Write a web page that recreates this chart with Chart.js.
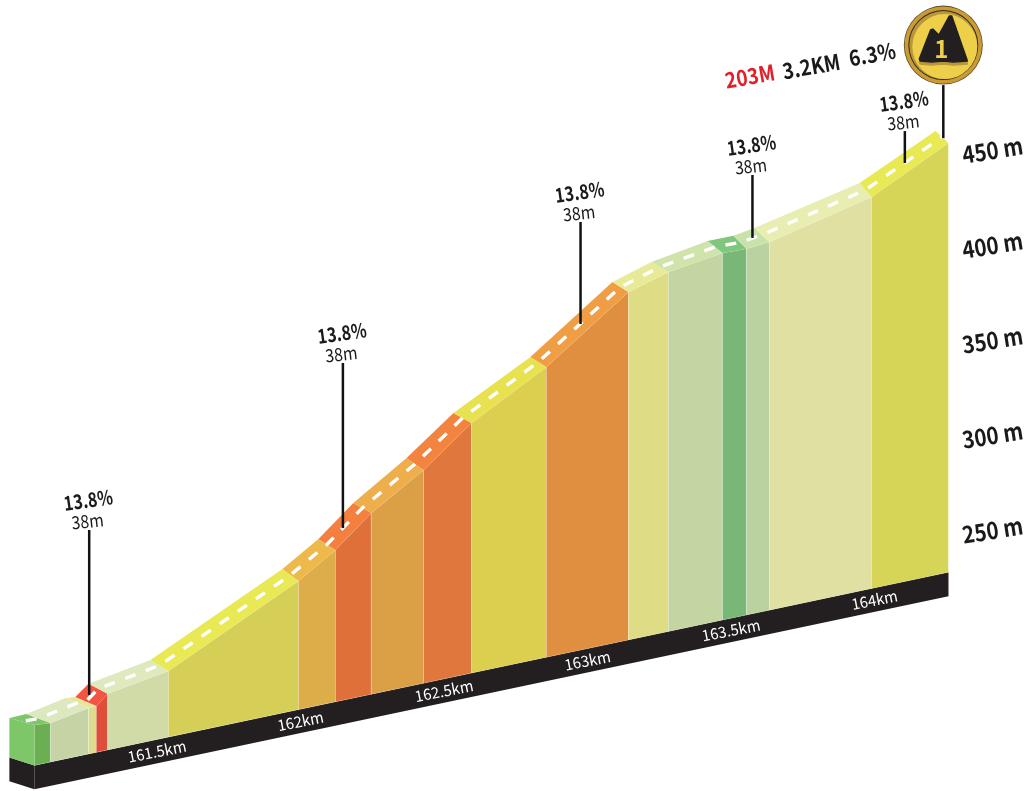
<!DOCTYPE html>
<html>
<head>
<meta charset="utf-8">
<style>html,body{margin:0;padding:0;background:#fff}canvas{display:block}</style>
<script src="https://cdn.jsdelivr.net/npm/chart.js@4/dist/chart.umd.js"></script>
</head>
<body>
<canvas id="c" width="1033" height="791"></canvas>
<script>
// ---------- data ----------
const segmentKm = [161.071,161.127,161.260,161.287,161.326,161.538,161.991,162.120,162.245,162.427,162.594,162.855,163.141,163.280,163.469,163.552,163.632,163.988,164.256];
const roadElevation = [253.9,253.1,256.8,256.9,262.1,267.4,300.3,312.5,328.0,344.8,364.2,385.4,415.7,421.8,425.8,425.3,426.4,438.7,458.6];
const baseElevation = 232.6;
const plinthElevation = 220;
const kmTicks = [161.5,162,162.5,163,163.5,164];
const elevationTicks = [250,300,350,400,450];
const noteKm = [161.262,162.146,162.974,163.573,164.104];
const noteFoot = [263.6,323.2,404.2,430.4,452.9];
const noteHead = [350.4,410.1,457.9,463.5,469.7];
const noteGradient = ['13.8%','13.8%','13.8%','13.8%','13.8%'];
const noteGain = ['38m','38m','38m','38m','38m'];
const summitKm = 164.238, summitFoot = 461.7, summitHead = 489.6;
const climbStats = ['203M','3.2KM','6.3%'];

// ---------- projection & styling ----------
const PX_KM = 287, PX_M = 1.9, SHEAR = 31.9, KM_REF = 164.409;
const W = 1033, H = 791;
const xMin = 161.5 - 157.5/PX_KM, xMax = xMin + W/PX_KM;
const yMax = 250 + 530/PX_M, yMin = 250 - (H-530)/PX_M;
const proj = (km, e) => e + SHEAR*(km-KM_REF);
const frontColors = ['#6CAF52','#C6D3A4','#DEDB8F','#DF4D3B','#D0DBA7','#D6CF57','#DCAD49','#E0703A','#DB9F45','#E0783E','#DCCE4F','#E08E3F','#DEDC85','#C3D5A1','#78B776','#BAD1A0','#E0E0A3','#D7D558'];
const topColors = ['#7DC768','#DDE8BE','#E7E897','#F25541','#DFE9BE','#E9E855','#EDB94B','#F47F3F','#EEAE4C','#F28440','#E9E250','#F09E45','#E8EA97','#CFE3AB','#7FC77C','#C7E2AB','#E8EDB1','#E9E855'];
const depthX = [-25,-24,-23,-21,-19,-18,-16,-17,-18,-17,-18,-16,-16,-17,-15,-13,-15,-12,-13];
const depthY = [-7,-9,-10,-9,-10,-11,-12,-11,-10,-12,-10,-10,-10,-10,-12,-13,-14,-14,-12];
const FONT = '"Noto Sans CJK SC","Noto Sans",sans-serif';
const INK = '#231F20';

const front = segmentKm.map((k,i)=>({x:k,y:proj(k,roadElevation[i])}));
const back = front.map((p,i)=>({x:p.x+depthX[i]/PX_KM,y:p.y-depthY[i]/PX_M}));
const baseAt = k => ({x:k,y:proj(k,baseElevation)});
const plinthAt = k => ({x:k,y:proj(k,plinthElevation)});
const first = segmentKm[0], last = segmentKm[segmentKm.length-1];
const shift = (p,dx,dy)=>({x:p.x+dx/PX_KM,y:p.y-dy/PX_M});

const shape = (pts,color,edge) => ({data:[...pts,pts[0]],showLine:true,fill:'shape',backgroundColor:color,
  borderColor:edge||'rgba(0,0,0,0)',borderWidth:edge?0.6:0,pointRadius:0,tension:0,clip:false});
const stroke = (pts,color,w,dash,off) => ({data:pts,showLine:true,fill:false,borderColor:color,borderWidth:w,borderDash:dash||[],borderDashOffset:off||0,pointRadius:0,tension:0,clip:false,borderCapStyle:'butt'});

const SEAM = 'rgba(255,255,255,0.28)';
const paint = [];
// plinth
paint.push(shape([baseAt(first),baseAt(last),plinthAt(last),plinthAt(first)],INK));
paint.push(shape([shift(baseAt(first),-25,-8),baseAt(first),plinthAt(first),shift(plinthAt(first),-25,-8)],INK));
// left face
paint.push(shape([back[0],front[0],baseAt(first),shift(baseAt(first),-25,-8)],'#7DC768'));
// front bands and road tops
frontColors.forEach((c,i)=>{
  paint.push(shape([front[i],front[i+1],baseAt(segmentKm[i+1]),baseAt(segmentKm[i])],c,SEAM));
});
topColors.forEach((c,i)=>{
  paint.push(shape([back[i],back[i+1],front[i+1],front[i]],c));
});
// centre line
paint.push(stroke(front.map((p,i)=>({x:(p.x+back[i].x)/2,y:(p.y+back[i].y)/2})),'#FFFFFF',3.4,[11,11],-4));
// leader lines
noteKm.forEach((k,i)=>paint.push(stroke([{x:k,y:proj(k,noteFoot[i])},{x:k,y:proj(k,noteHead[i])}],'#111214',2.5)));
paint.push(stroke([{x:summitKm,y:proj(summitKm,summitFoot)},{x:summitKm,y:proj(summitKm,summitHead)}],'#111214',2.5));

function rotText(ctx,txt,x,y,deg,font,color,sx){
  ctx.save();ctx.translate(x,y);ctx.rotate(deg*Math.PI/180);ctx.scale(sx||1,1);
  ctx.font=font;ctx.fillStyle=color;ctx.textAlign='center';ctx.textBaseline='middle';
  ctx.fillText(txt,0,0);ctx.restore();
}
function badge(ctx,cx,cy){
  ctx.save();
  ctx.beginPath();ctx.arc(cx,cy,39.5,0,Math.PI*2);ctx.fillStyle='#5A4A2A';ctx.fill();
  ctx.beginPath();ctx.arc(cx,cy,38.7,0,Math.PI*2);ctx.fillStyle='#CB9A33';ctx.fill();
  ctx.beginPath();ctx.arc(cx,cy,35,0,Math.PI*2);ctx.fillStyle='#2E2A22';ctx.fill();
  ctx.beginPath();ctx.arc(cx,cy,34,0,Math.PI*2);ctx.fillStyle='#B8963A';ctx.fill();
  ctx.beginPath();ctx.arc(cx+1.5,cy+1.5,32.5,0,Math.PI*2);ctx.fillStyle='#EDCF4A';ctx.fill();
  const m=[[-24,14],[-12.5,-15.5],[-10.5,-16],[-4.5,-10],[6,-29],[8.5,-29],[23.5,14],[24,16],[10,17],[0,16],[-12,17],[-23,16]];
  const path=(dx,dy)=>{ctx.beginPath();m.forEach((p,i)=>i?ctx.lineTo(cx+p[0]+dx,cy+p[1]+dy):ctx.moveTo(cx+p[0]+dx,cy+p[1]+dy));ctx.closePath();};
  ctx.lineJoin='round';ctx.lineWidth=1.5;
  path(0,3);ctx.fillStyle='#B8963A';ctx.strokeStyle='#B8963A';ctx.fill();ctx.stroke();
  path(0,0);ctx.fillStyle=INK;ctx.strokeStyle=INK;ctx.fill();ctx.stroke();
  ctx.font='bold 24px '+FONT;ctx.fillStyle='#EDCF4A';ctx.textAlign='center';ctx.textBaseline='middle';
  ctx.fillText('1',cx-2,cy+4);
  ctx.restore();
}

const overlay = {id:'overlay',afterDatasetsDraw(chart){
  const {ctx,scales:{x,y}} = chart;
  kmTicks.forEach(k=>{
    const px=x.getPixelForValue(k), py=y.getPixelForValue(proj(k,(baseElevation+plinthElevation)/2));
    rotText(ctx,k+'km',px-0.5,py,-11,'15.5px '+FONT,'#FFFFFF',0.96);
  });
  elevationTicks.forEach(e=>{
    const py=y.getPixelForValue(e);
    rotText(ctx,e+' m',992.5,py,-9,'bold 24px '+FONT,'#1A1A1C',0.86);
  });
  noteKm.forEach((k,i)=>{
    const px=x.getPixelForValue(k), py=y.getPixelForValue(proj(k,noteHead[i]));
    rotText(ctx,noteGradient[i],px-1,py-30,-8,'bold 20px '+FONT,'#1A1A1C',0.81);
    rotText(ctx,noteGain[i],px-1.5,py-9,-6,'18px '+FONT,'#1A1A1C',0.88);
  });
  const sx=x.getPixelForValue(summitKm), sy=y.getPixelForValue(proj(summitKm,summitHead));
  const statX=[-193.5,-132,-71], statY=[-9,-19,-31];
  climbStats.forEach((t,i)=>rotText(ctx,t,sx+statX[i],sy+statY[i],-10,'bold 22px '+FONT,i?'#1A1A1C':'#E0202A',0.87));
  badge(ctx,sx,sy-40);
}};

new Chart(document.getElementById('c'),{
  type:'scatter',
  data:{datasets:paint.reverse()},
  options:{
    responsive:false,animation:false,
    layout:{padding:0},
    plugins:{legend:{display:false},tooltip:{enabled:false},title:{display:false}},
    scales:{
      x:{type:'linear',min:xMin,max:xMax,display:false},
      y:{type:'linear',min:yMin,max:yMax,display:false}
    }
  },
  plugins:[overlay]
});
</script>
</body>
</html>
